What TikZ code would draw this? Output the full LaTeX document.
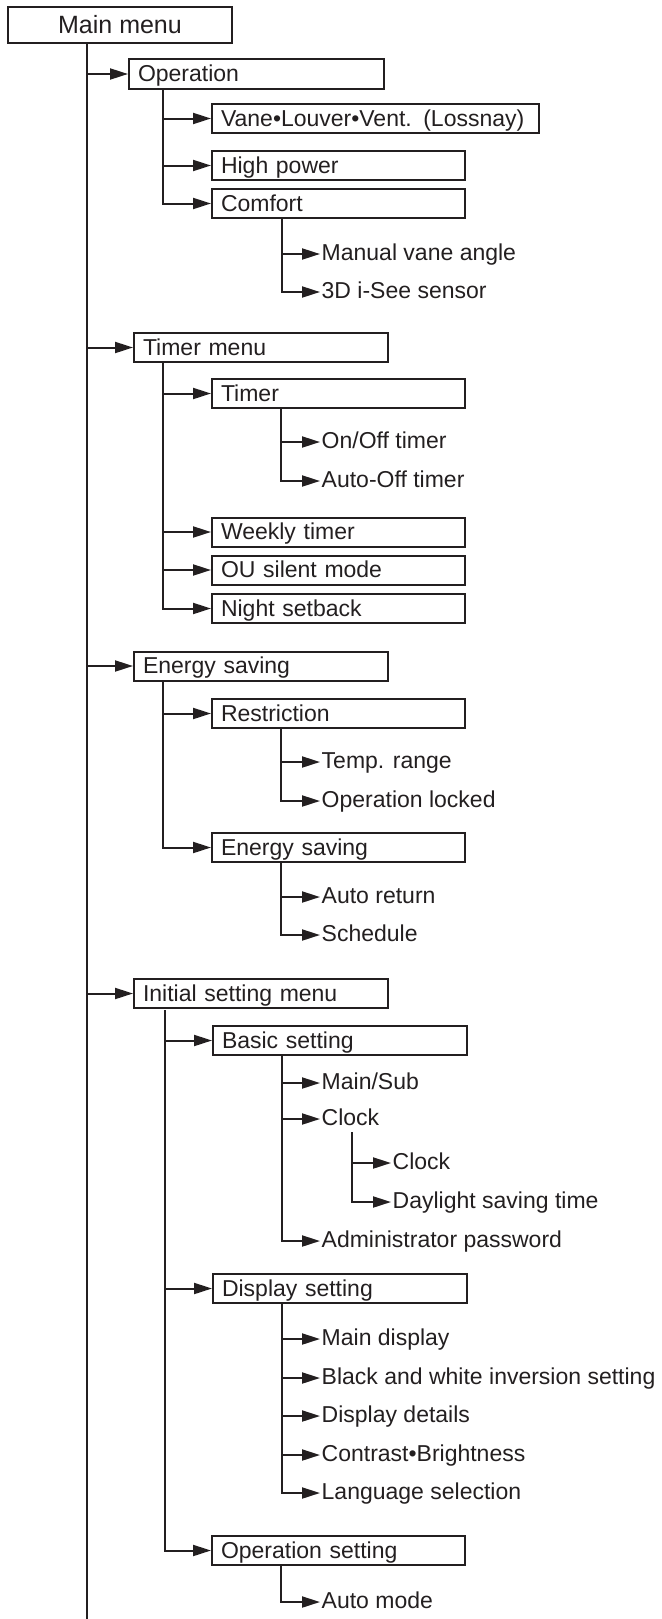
\documentclass[tikz,border=0pt]{standalone}
\usepackage{fontspec}
\setmainfont{Liberation Sans}
\usetikzlibrary{arrows.meta}
\definecolor{ink}{HTML}{231F20}
\newcommand{\menufont}{\fontsize{23pt}{27pt}\selectfont}
\newcommand{\linew}{2pt}
\tikzset{
  menubox/.style={draw=ink, line width=\linew, anchor=west, inner xsep=9pt, inner ysep=0pt,
    minimum height=29pt, text height=17pt, text depth=1.5pt, align=left, font=\menufont, text=ink},
  boxa/.style={menubox, text width=236pt},
  boxb/.style={menubox, text width=235pt},
  leaf/.style={anchor=west, inner xsep=1.5pt, inner ysep=0pt, text height=16.5pt, text depth=3.5pt,
    font=\menufont, text=ink},
  branch/.style={draw=ink, line width=\linew},
  arr/.style={branch, -{Triangle[length=18pt,width=11pt]}}
}

\begin{document}
\begin{tikzpicture}[x=1pt,y=-1pt]
\useasboundingbox (0,0) rectangle (661,1619);
\node[draw=ink, line width=\linew, minimum width=224pt, minimum height=36pt, inner sep=0pt,
  text height=18pt, text depth=0pt, font=\fontsize{25pt}{29pt}\selectfont, text=ink] (main) at (120,25) {Main menu};
\coordinate (t0) at (87,43);
\coordinate (t0end) at (87,1619);
\draw[branch] (t0) -- (t0end);
%operation
\node[boxa, text width=237pt] (op) at (128,74) {Operation};
\node[menubox, text width=309pt] (vane) at (211,118.5) {Vane•Louver•Vent. (Lossnay)};
\node[boxb] (hp) at (211,165.5) {High power};
\node[boxb] (cf) at (211,203.5) {Comfort};
\node[leaf] (mva) at (320,254) {Manual vane angle};
\node[leaf] (see) at (320,292) {3D i-See sensor};
\coordinate (t1) at (163,88);
\coordinate (t2) at (282,218);
\draw[arr] (t0 |- op.west) -- (op.west);
\draw[arr] (t1 |- vane.west) -- (vane.west);
\draw[arr] (t1 |- hp.west) -- (hp.west);
\draw[arr] (t1) |- (cf.west);
\draw[arr] (t2 |- mva.west) -- (mva.west);
\draw[arr] (t2) |- (see.west);
%timer
\node[boxa] (tm) at (133,347.5) {Timer menu};
\node[boxb] (tmr) at (211,393.5) {Timer};
\node[leaf] (onoff) at (320,442) {On/Off timer};
\node[leaf] (aoff) at (320,481) {Auto-Off timer};
\node[boxb] (wk) at (211,532) {Weekly timer};
\node[boxb] (ou) at (211,570) {OU silent mode};
\node[boxb] (ns) at (211,608.5) {Night setback};
\coordinate (t3) at (163,362);
\coordinate (t4) at (281,408);
\draw[arr] (t0 |- tm.west) -- (tm.west);
\draw[arr] (t3 |- tmr.west) -- (tmr.west);
\draw[arr] (t3 |- wk.west) -- (wk.west);
\draw[arr] (t3 |- ou.west) -- (ou.west);
\draw[arr] (t3) |- (ns.west);
\draw[arr] (t4 |- onoff.west) -- (onoff.west);
\draw[arr] (t4) |- (aoff.west);
%energy
\node[boxa] (es) at (133,666) {Energy saving};
\node[boxb] (rs) at (211,713.5) {Restriction};
\node[leaf] (temp) at (320,762) {Temp. range};
\node[leaf] (lock) at (320,801) {Operation locked};
\node[boxb] (es2) at (211,847.5) {Energy saving};
\node[leaf] (aret) at (320,897) {Auto return};
\node[leaf] (sch) at (320,935) {Schedule};
\coordinate (t5) at (163,681);
\coordinate (t6) at (281,728);
\coordinate (t7) at (281,862);
\draw[arr] (t0 |- es.west) -- (es.west);
\draw[arr] (t5 |- rs.west) -- (rs.west);
\draw[arr] (t5) |- (es2.west);
\draw[arr] (t6 |- temp.west) -- (temp.west);
\draw[arr] (t6) |- (lock.west);
\draw[arr] (t7 |- aret.west) -- (aret.west);
\draw[arr] (t7) |- (sch.west);
%initial
\node[boxa] (is) at (133,993.5) {Initial setting menu};
\node[boxb, text width=236pt] (bs) at (212,1040.5) {Basic setting};
\node[leaf] (msub) at (320,1083) {Main/Sub};
\node[leaf] (clk) at (320,1119) {Clock};
\node[leaf] (clk2) at (391,1163) {Clock};
\node[leaf] (dst) at (391,1202) {Daylight saving time};
\node[leaf] (adm) at (320,1241) {Administrator password};
\node[boxb, text width=236pt] (ds) at (212,1288.5) {Display setting};
\node[leaf] (maind) at (320,1339) {Main display};
\node[leaf] (bw) at (320,1378) {Black and white inversion setting};
\node[leaf] (dd) at (320,1416) {Display details};
\node[leaf] (cb) at (320,1455) {Contrast•Brightness};
\node[leaf] (lang) at (320,1493) {Language selection};
\node[boxb] (os) at (211,1550.5) {Operation setting};
\node[leaf] (amode) at (320,1602) {Auto mode};
\coordinate (t8) at (165,1010);
\coordinate (t9) at (282,1055);
\coordinate (t10) at (352,1132);
\coordinate (t11) at (282,1303);
\coordinate (t12) at (281,1565);
\draw[arr] (t0 |- is.west) -- (is.west);
\draw[arr] (t8 |- bs.west) -- (bs.west);
\draw[arr] (t8 |- ds.west) -- (ds.west);
\draw[arr] (t8) |- (os.west);
\draw[arr] (t9 |- msub.west) -- (msub.west);
\draw[arr] (t9 |- clk.west) -- (clk.west);
\draw[arr] (t9) |- (adm.west);
\draw[arr] (t10 |- clk2.west) -- (clk2.west);
\draw[arr] (t10) |- (dst.west);
\draw[arr] (t11 |- maind.west) -- (maind.west);
\draw[arr] (t11 |- bw.west) -- (bw.west);
\draw[arr] (t11 |- dd.west) -- (dd.west);
\draw[arr] (t11 |- cb.west) -- (cb.west);
\draw[arr] (t11) |- (lang.west);
\draw[arr] (t12) |- (amode.west);
\end{tikzpicture}
\end{document}
